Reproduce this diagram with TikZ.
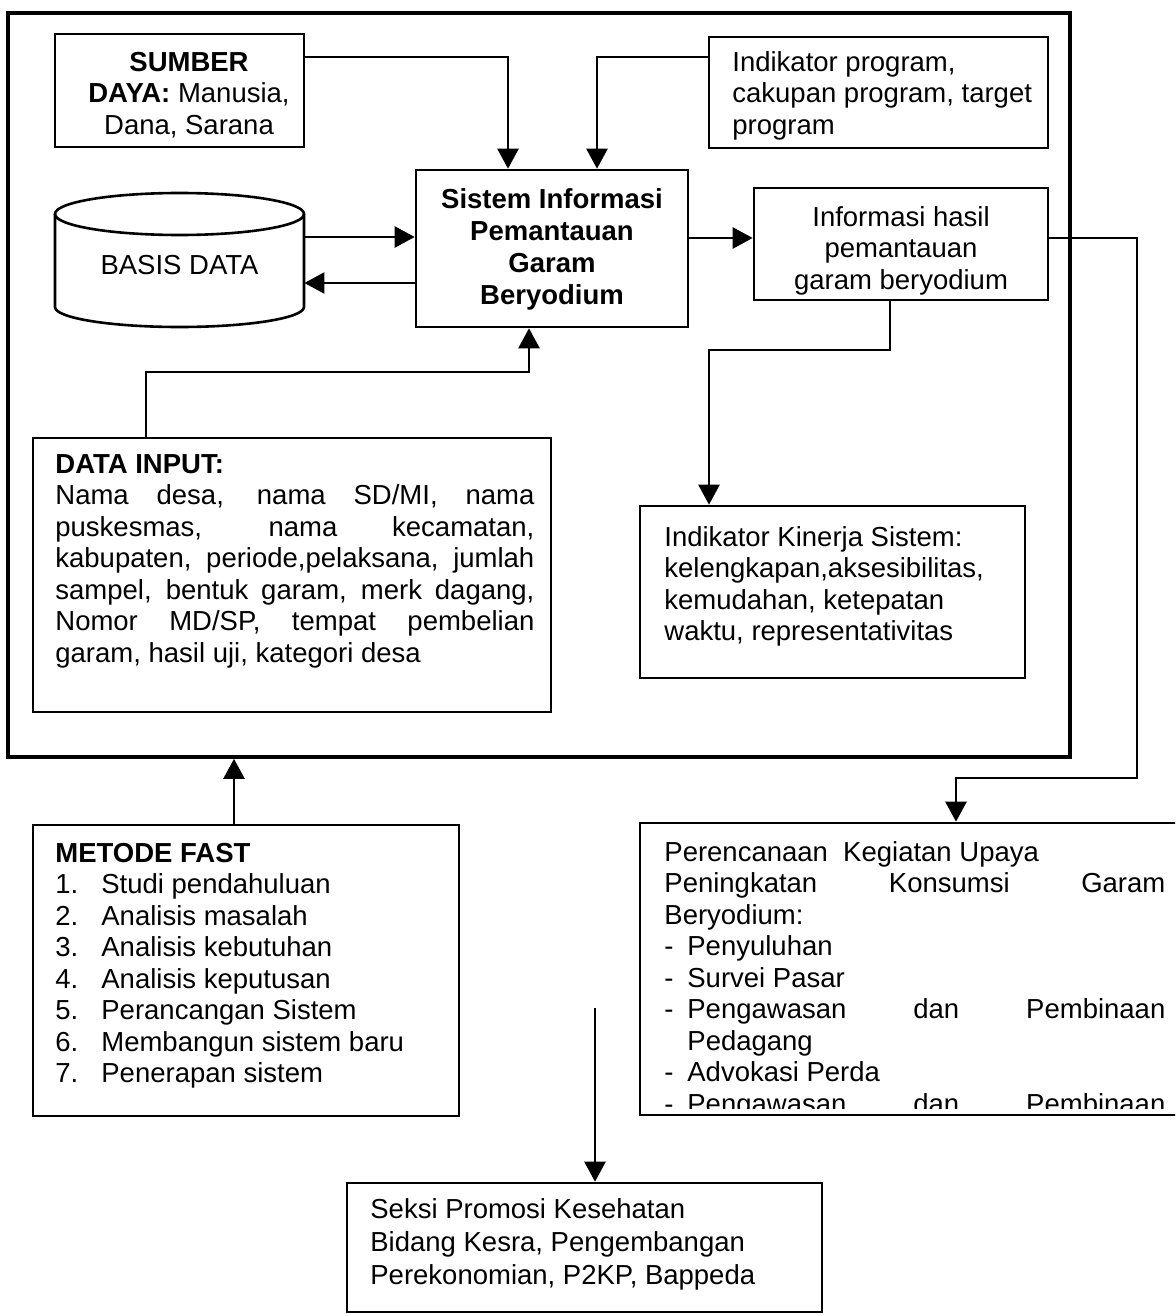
\documentclass[tikz,border=0pt]{standalone}
\usepackage{fontspec}
\setmainfont{Liberation Sans}
\usetikzlibrary{arrows.meta,fit}
% strut that fixes the height of a first line
\newcommand{\Tstr}{\rule{0pt}{10.5pt}}
% justified line of a given width
\newcommand{\jline}[2]{\makebox[#1][s]{#2}}
% list dash with a fixed indent
\newcommand{\dsh}{\makebox[11.5pt][l]{-}}
\newcommand{\numi}[1]{\makebox[23pt][l]{#1}}
\begin{document}
\begin{tikzpicture}[x=0.5pt,y=-0.5pt,
  every node/.style={font=\fontsize{13.75pt}{15.75pt}\selectfont},
  box/.style={draw, line width=1.3pt, inner sep=0pt},
  txt/.style={inner sep=0pt, align=left, anchor=north west},
  ctxt/.style={inner sep=0pt, align=center, anchor=north},
  conn/.style={line width=1.2pt},
  arr/.style={conn, -{Triangle[width=10.5pt,length=10pt]}}]
\useasboundingbox (0,0) rectangle (1175,1316);
\clip (0,0) rectangle (1175,1316);

% outer frame of the system
\node[box, line width=1.8pt, fit={(8,13) (1070,757)}] (outer) {};

% resources
\node[box, fit={(55,34) (304,147)}] (sumber) {};
\node[ctxt] (sumber-t) at (189,50) {\Tstr\textbf{SUMBER}\\\textbf{DAYA:} Manusia,\\Dana, Sarana};

% program indicators
\node[box, fit={(709,37) (1048,148)}] (indik) {};
\node[txt] (indik-t) at (732,50) {\Tstr Indikator program,\\cakupan program, target\\program};

% central information system
\node[box, fit={(416,170) (688,327)}] (sis) {};
\node[ctxt, font=\bfseries\fontsize{13.75pt}{16pt}\selectfont] (sis-t) at (552,187)
  {\Tstr Sistem Informasi\\Pemantauan\\Garam\\Beryodium};

% database cylinder
\draw[line width=1.3pt] (179.5,214) ellipse [x radius=62.25pt, y radius=10.5pt];
\draw[line width=1.3pt] (55,214) -- (55,307)
  arc[start angle=180, end angle=360, x radius=62.25pt, y radius=10pt] -- (304,214);
\node[inner sep=0pt, minimum width=124.5pt] (db) at (179.5,265) {BASIS DATA};

% monitoring information
\node[box, fit={(754,188) (1048,300)}] (info) {};
\node[ctxt] (info-t) at (901,205) {\Tstr Informasi hasil\\pemantauan\\garam beryodium};

% performance indicators
\node[box, fit={(640,506) (1025,678)}] (kin) {};
\node[txt] (kin-t) at (664,525) {\Tstr Indikator Kinerja Sistem:\\kelengkapan,aksesibilitas,\\kemudahan, ketepatan\\waktu, representativitas};

% input data
\node[box, fit={(33,438) (551,712)}] (din) {};
\node[txt] (din-t) at (55,452) {\Tstr\textbf{DATA INPUT:}\\
  \jline{239.5pt}{Nama desa, nama SD/MI, nama}\\
  \jline{239.5pt}{puskesmas, nama kecamatan,}\\
  \jline{239.5pt}{kabupaten, periode,pelaksana, jumlah}\\
  \jline{239.5pt}{sampel, bentuk garam, merk dagang,}\\
  \jline{239.5pt}{Nomor MD/SP, tempat pembelian}\\
  garam, hasil uji, kategori desa};

% FAST method
\node[box, fit={(33,825) (459,1116)}] (met) {};
\node[txt] (met-t) at (55,841) {\Tstr\textbf{METODE FAST}\\
  \numi{1.}Studi pendahuluan\\
  \numi{2.}Analisis masalah\\
  \numi{3.}Analisis kebutuhan\\
  \numi{4.}Analisis keputusan\\
  \numi{5.}Perancangan Sistem\\
  \numi{6.}Membangun sistem baru\\
  \numi{7.}Penerapan sistem};

% activity planning
\node[box, fit={(640,823) (1190,1115)}] (perenc) {};
\begin{scope}
\clip (640,823) rectangle (1175,1108);
\node[txt] (perenc-t) at (664,840) {\Tstr Perencanaan\ \ Kegiatan Upaya\\
  \jline{250.5pt}{Peningkatan Konsumsi Garam}\\
  Beryodium:\\
  \dsh Penyuluhan\\
  \dsh Survei Pasar\\
  \dsh\jline{239pt}{Pengawasan dan Pembinaan}\\
  \makebox[11.5pt]{}Pedagang\\
  \dsh Advokasi Perda\\
  \dsh\jline{239pt}{Pengawasan dan Pembinaan}};
\end{scope}

% stakeholders
\node[box, fit={(347,1183) (822,1312)}] (seksi) {};
\node[txt, font=\fontsize{13.75pt}{16.5pt}\selectfont] (seksi-t) at (370,1197)
  {\Tstr Seksi Promosi Kesehatan\\Bidang Kesra, Pengembangan\\Perekonomian, P2KP, Bappeda};

% connectors
\draw[arr] (sumber.east |- 0,57) -| (508,0 |- sis.north);
\draw[arr] (indik.west |- 0,57) -| (597,0 |- sis.north);
\draw[arr] (db.east |- 0,237) -- (sis.west |- 0,237);
\draw[arr] (sis.west |- 0,283) -- (db.east |- 0,283);
\draw[arr] (sis.east |- 0,238) -- (info.west |- 0,238);
\draw[arr] (146,0 |- din.north) |- (529,372) -- (529,0 |- sis.south);
\draw[arr] (890,0 |- info.south) |- (709,350) -- (709,0 |- kin.north);
\draw[arr] (info.east |- 0,238) -| (1137,778) -| (956,0 |- perenc.north);
\draw[arr] (234,0 |- met.north) -- (234,0 |- outer.south);
\coordinate (pstart) at (595,1008);
\draw[arr] (pstart) -- (595,0 |- seksi.north);
\end{tikzpicture}
\end{document}
